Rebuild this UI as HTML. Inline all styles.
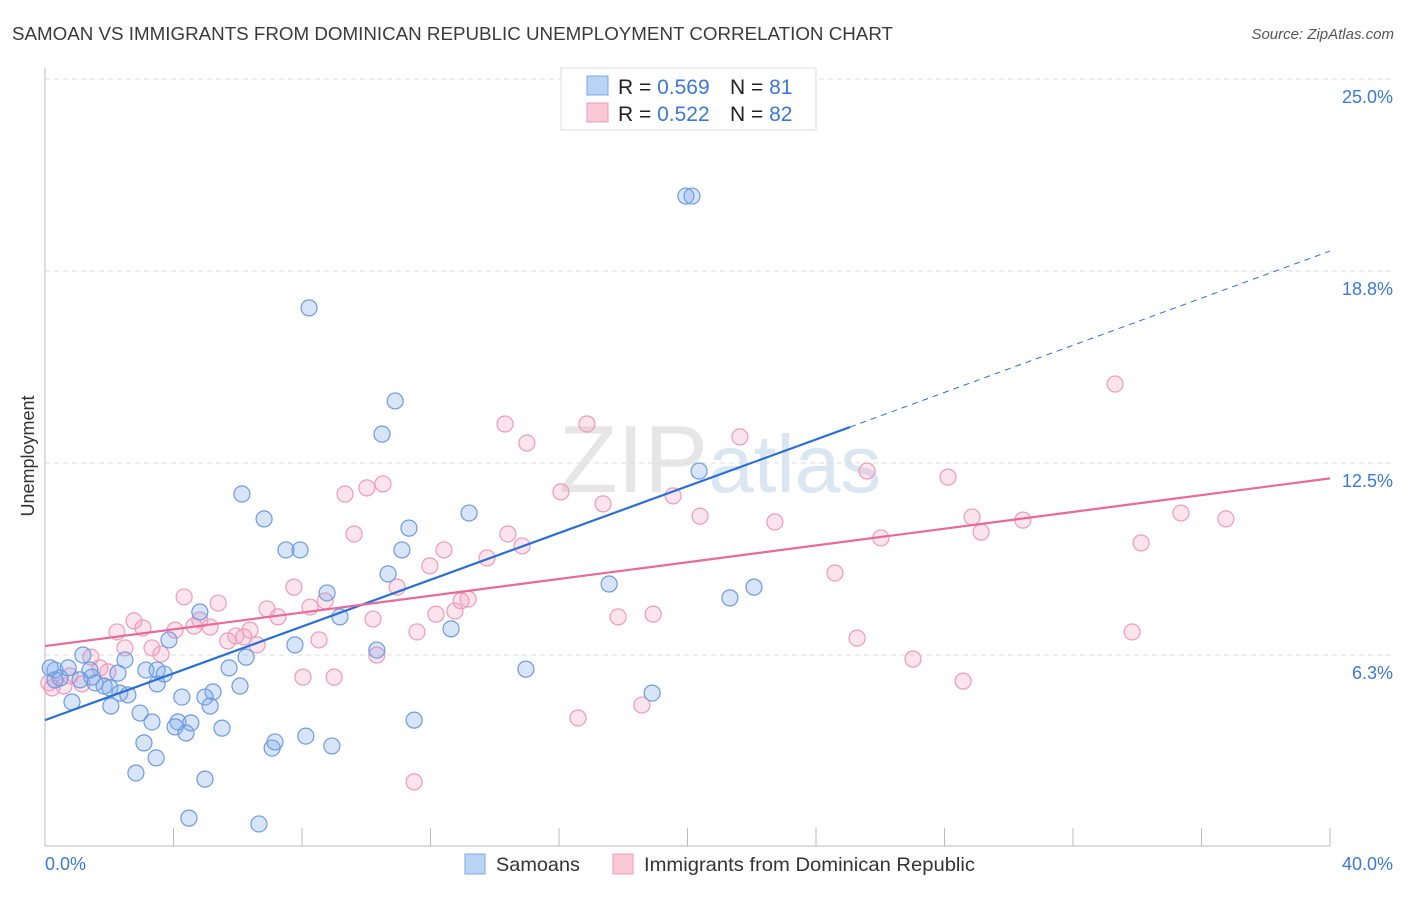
<!DOCTYPE html>
<html><head><meta charset="utf-8"><style>
body{margin:0;background:#fff;font-family:"Liberation Sans",sans-serif;}
svg text{font-family:"Liberation Sans",sans-serif;}
</style></head><body>
<svg id="chart" width="1406" height="892" xmlns="http://www.w3.org/2000/svg">
<text x="12" y="40" font-size="18" fill="#3a3a3a" textLength="881" lengthAdjust="spacingAndGlyphs">SAMOAN VS IMMIGRANTS FROM DOMINICAN REPUBLIC UNEMPLOYMENT CORRELATION CHART</text>
<text x="1394" y="39" font-size="15" fill="#555" text-anchor="end" font-style="italic">Source: ZipAtlas.com</text>
<text x="720" y="492" font-size="96" fill="#e6e6e6" text-anchor="middle" font-family="Liberation Serif">ZIP<tspan fill="#dbe6f3" font-family="Liberation Sans" font-size="82">atlas</tspan></text>
<g id="grid"></g>
<line x1="45" y1="68" x2="45" y2="846" stroke="#bbb"/>
<line x1="45" y1="846" x2="1330" y2="846" stroke="#bbb"/>
<text transform="translate(34,456) rotate(-90)" font-size="18" fill="#333" text-anchor="middle">Unemployment</text>
<text x="45" y="870" font-size="18" fill="#3b78d8">0.0%</text>
<text x="1393" y="870" font-size="18" fill="#3b78d8" text-anchor="end">40.0%</text>
<g id="ticks"></g>
<g id="pts"></g>
<g id="lines"></g>
<g>
<rect x="561" y="68" width="255" height="62" fill="#fff" stroke="#ddd"/>
<rect x="587" y="76" width="21" height="19" fill="#b9d3f5" stroke="#7aa7e6"/>
<text x="618" y="94" font-size="21" fill="#222">R = <tspan fill="#3b78d8">0.569</tspan></text>
<text x="730" y="94" font-size="21" fill="#222">N = <tspan fill="#3b78d8"> 81</tspan></text>
<rect x="587" y="103" width="21" height="19" fill="#f9c9d8" stroke="#ec9ab6"/>
<text x="618" y="121" font-size="21" fill="#222">R = <tspan fill="#3b78d8">0.522</tspan></text>
<text x="730" y="121" font-size="21" fill="#222">N = <tspan fill="#3b78d8">82</tspan></text>
</g>
<g>
<rect x="465" y="854" width="20" height="20" fill="#b9d3f5" stroke="#7aa7e6"/>
<text x="496" y="871" font-size="19.5" fill="#333" textLength="84" lengthAdjust="spacingAndGlyphs">Samoans</text>
<rect x="613" y="854" width="20" height="20" fill="#f9c9d8" stroke="#ec9ab6"/>
<text x="644" y="871" font-size="19.5" fill="#333" textLength="331" lengthAdjust="spacingAndGlyphs">Immigrants from Dominican Republic</text>
</g>
</svg>
<script>
const yTicks=[6.25,12.5,18.75,25];
const yTickLabels=["6.3%","12.5%","18.8%","25.0%"];
const xTicks=[0,4,8,12,16,20,24,28,32,36,40];
const blueX=[19.95,20.14,8.22,10.9,10.49,6.13,6.82,13.2,11.33,7.5,7.94,11.11,10.68,8.78,9.18,4.82,3.86,7.78,10.33,12.64,17.56,21.32,22.07,20.36,14.97,18.9,11.49,6.26,5.73,6.07,5.23,4.98,4.26,5.14,3.49,3.14,3.49,3.71,2.49,2.27,1.84,1.46,2.02,2.33,2.58,2.05,2.96,3.33,4.14,4.05,4.54,4.39,5.51,3.08,3.46,2.83,4.98,7.07,7.16,8.12,8.93,4.48,6.66,0.84,1.18,1.40,0.31,0.47,0.16,0.72,1.09,1.56,0.31];
const blueY=[21.19,21.19,17.55,14.52,13.44,11.49,10.68,10.87,10.38,9.67,9.67,9.67,8.89,8.27,7.49,7.65,6.74,6.58,6.41,7.10,8.56,8.11,8.46,12.24,5.79,5.01,4.13,6.18,5.83,5.24,5.05,4.88,4.88,4.59,5.31,5.76,5.76,5.63,6.09,5.66,5.24,5.53,5.18,5.01,4.95,4.59,4.36,4.07,4.07,3.91,4.04,3.71,3.87,3.39,2.90,2.41,2.21,3.22,3.42,3.61,3.29,0.94,0.75,4.72,6.25,5.76,5.76,5.50,5.83,5.83,5.44,5.34,5.44];
const pinkX=[33.31,14.32,16.87,15.0,21.63,25.59,28.11,10.52,10.02,9.34,16.06,19.55,17.37,20.39,22.72,28.86,30.44,35.36,36.76,29.14,26.02,14.41,14.85,34.12,9.62,12.42,13.76,11.98,7.75,10.96,24.59,4.33,8.72,13.17,12.95,5.39,6.91,8.25,12.76,12.17,7.25,10.21,17.84,18.93,2.77,3.05,4.82,5.14,4.05,4.64,2.24,6.38,5.94,6.19,11.58,6.60,8.53,5.69,33.84,25.28,2.49,3.33,3.61,10.33,27.02,1.43,1.71,1.96,8.03,9.0,28.58,1.15,0.59,0.22,0.78,18.58,16.59,11.49,0.12];
const pinkY=[15.07,13.77,13.77,13.15,13.35,12.24,12.04,11.82,11.69,11.49,11.56,11.43,11.17,10.77,10.58,10.74,10.64,10.87,10.68,10.25,10.06,10.19,9.80,9.90,10.19,9.67,9.41,9.15,8.46,8.46,8.92,8.14,8.01,8.07,8.01,7.94,7.75,7.81,7.68,7.58,7.49,7.42,7.49,7.58,7.36,7.13,7.39,7.16,7.06,7.19,7.00,7.06,6.87,6.84,7.00,6.58,6.74,6.71,7.00,6.80,6.48,6.48,6.28,6.25,6.12,6.18,5.83,5.70,5.53,5.53,5.40,5.31,5.24,5.18,5.57,4.62,4.20,2.12,5.34];
const blueTrend=[[0,4.13],[25.06,13.67],[40,19.4]];
const pinkTrend=[[0,6.54],[40,12.0]];
const X=v=>45+v*32.125, Y=v=>847-v*30.72;
const NS="http://www.w3.org/2000/svg";
function mk(tag,attrs,parent){const e=document.createElementNS(NS,tag);for(const k in attrs)e.setAttribute(k,attrs[k]);parent.appendChild(e);return e;}
const grid=document.getElementById('grid');
yTicks.forEach((t,i)=>{
  const l=mk('line',{x1:45,x2:1393,y1:Y(t),y2:Y(t),stroke:'#ddd','stroke-dasharray':'5,4'},grid);
  
  
  const tx=mk('text',{x:1393,y:Y(t)+24,'font-size':18,fill:'#3b78d8','text-anchor':'end'},grid);
  tx.textContent=yTickLabels[i];
  
  
});
const tk=document.getElementById('ticks');
xTicks.forEach(t=>{
  const l=mk('line',{x1:X(t),x2:X(t),y1:828,y2:846,stroke:'#bbb'},tk);
  
  
});
const pts=document.getElementById('pts');
pinkX.forEach((x,i)=>{
  const c=mk('circle',{cx:X(x),cy:Y(pinkY[i]),r:8,fill:'rgba(245,165,195,0.3)',stroke:'#ef9ab8','stroke-width':1.2},pts);
  
  
});
blueX.forEach((x,i)=>{
  const c=mk('circle',{cx:X(x),cy:Y(blueY[i]),r:8,fill:'rgba(125,170,235,0.3)',stroke:'#6c9be0','stroke-width':1.2},pts);
  
  
});
const ln=document.getElementById('lines');
const b1=mk('line',{x1:X(blueTrend[0][0]),y1:Y(blueTrend[0][1]),x2:X(blueTrend[1][0]),y2:Y(blueTrend[1][1]),stroke:'#2a6fd6','stroke-width':2.2},ln);


const b2=mk('line',{x1:X(blueTrend[1][0]),y1:Y(blueTrend[1][1]),x2:X(blueTrend[2][0]),y2:Y(blueTrend[2][1]),stroke:'#2a6fd6','stroke-width':1,'stroke-dasharray':'6,5'},ln);


const p1=mk('line',{x1:X(pinkTrend[0][0]),y1:Y(pinkTrend[0][1]),x2:X(pinkTrend[1][0]),y2:Y(pinkTrend[1][1]),stroke:'#e8699a','stroke-width':2.2},ln);


</script>
</body></html>
